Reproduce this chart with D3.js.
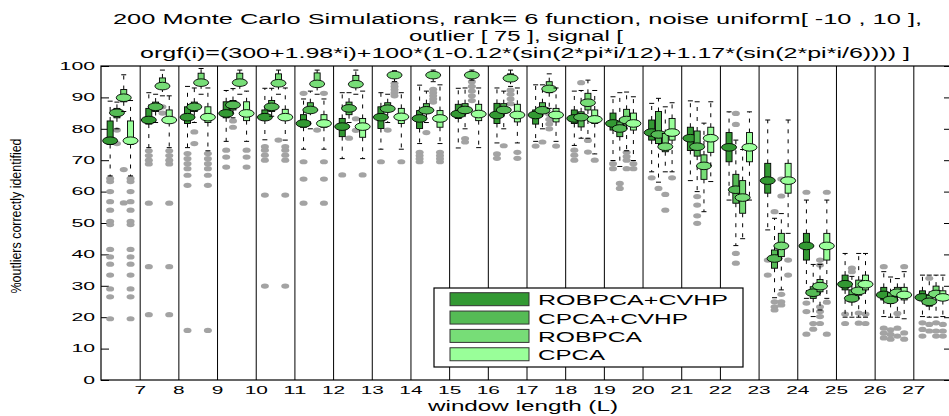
<!DOCTYPE html>
<html>
<head>
<meta charset="utf-8">
<script src="https://cdn.jsdelivr.net/npm/d3@7/dist/d3.min.js"></script>
<style>
  body { margin: 0; background: #fff; }
  svg text { font-family: "Liberation Sans", Arial, Helvetica, sans-serif; fill: #000; }
</style>
</head>
<body>
<svg id="chart" width="949" height="416"></svg>
<script>
// ---- data -------------------------------------------------------------
const groupCount = 22;                       // one group per window length
const tickLabels = d3.range(7, 28);          // labels at the group separators
const yTicks = d3.range(0, 101, 10);
const seriesNames = ["ROBPCA+CVHP", "CPCA+CVHP", "ROBPCA", "CPCA"];
const seriesColors = ["#339933", "#55bb55", "#77dd77", "#99ff99"];
const titleLines = [
  "200 Monte Carlo Simulations, rank= 6 function, noise uniform[ -10 , 10 ],",
  "outlier [ 75 ], signal [",
  "orgf(i)=(300+1.98*i)+100*(1-0.12*(sin(2*pi*i/12)+1.17*(sin(2*pi*i/6)))) ]"
];
const xTitle = "window length (L)";
const yTitle = "%outliers correctly identified";

// per group: [lower whisker, q1, median, q3, upper whisker]
const robpcaCvhpStats = [
  [65,75,76.2,82.5,88.8],[74,81.5,82.8,86.5,91.5],[74,81.7,83.7,87,93.5],[76,83.5,84.9,88.6,92.2],
  [76.5,82.8,83.7,86,92.9],[73.5,80.5,81.7,84.5,89.5],[70.5,77.5,80.7,83.3,91.5],[73.5,80.1,83.7,87,91.5],
  [75.3,80.1,83.3,85.8,93.9],[73.9,83.3,84.7,87.8,92.9],[75.5,81.7,84.4,88.1,93],[76,81.5,84.4,86,94],
  [74.7,81.7,83.3,86,92],[69.9,79.6,81.7,85,90.2],[66.3,76.4,78.8,82.8,88.1],[63.5,73.1,77,80.5,88.9],
  [57.3,69.5,74.1,78.8,85.4],[47.8,59.5,63.5,69,82.8],[26,38.2,42.7,46.7,57.3],[20,28.7,30.5,33.4,40.3],
  [20.2,25.5,27.1,29.5,34.5],[20.2,25.3,26.3,28.4,33.4]
];
const cpcaCvhpStats = [
  [80,83.5,85.1,86.5,88.5],[82,85.5,87,88.5,91],[82,85.5,87,88.5,93],[83.5,86,87.6,89,92.8],
  [84,85.5,87,89,92.9],[80,85.6,86,88.3,92],[82,84.5,86.5,88.5,91.5],[82,85.6,86.4,88.3,91],
  [82,85,85.9,88,92],[80,85,86,88,93],[80,85,86,88,92],[80,85,85.9,88.3,94],
  [77,80.6,83.7,85.4,92.2],[68,77.5,80.1,82.2,91.5],[63,75.3,78.2,85.5,89.7],[60,71.3,74.3,79.3,88.6],
  [42.8,56.3,60.6,65.5,76.4],[26.2,35.6,38.7,41.4,51.5],[20.2,26,27.8,29.7,36.8],[20,24.9,26,28.7,33],
  [20,24.4,25.5,27.8,32.8],[20,23.5,24.9,27,33.4]
];
const robpcaStats = [
  [85.5,88.6,89.9,92.5,97.2],[90.5,93,93.6,96.2,98.7],[91,94,94.7,97.7,99.2],[91,94,94.7,97.7,98.7],
  [91,93.8,94.5,97.5,98.7],[91,93.5,94.3,97.8,98.7],[91,93.5,94.2,97,98.7],[95,96.5,97.1,97.5,98.5],
  [95,96.5,97.1,97.7,98.7],[95.5,96.5,97.1,97.7,98.7],[93.5,95.5,96.1,97.5,98.7],[86.5,91.5,92.7,95,97.5],
  [77,86,88.3,91.3,95.5],[73,81.2,82.8,86.2,91.7],[66.3,72.7,74.3,78.5,87],[53.6,63.9,68.2,71.7,81.8],
  [45,53.1,58.1,63.5,73.4],[28.7,39.3,42.7,46.7,53],[22.3,28.1,29.9,32,36.8],[20,27,28.4,31.8,40.3],
  [20,26.5,27.8,29.5,32.3],[20,26.5,27.4,29.9,33.4]
];
const cpcaStats = [
  [65,75,76.2,82.5,89],[74,82,82.8,86,90.5],[73,82,83.7,87,93],[76,82.6,84.9,88.6,92],
  [76.4,82.8,83.7,86.2,93],[73.5,80.5,81.7,84.5,89.5],[70.5,77.3,80.7,83.3,92],[73.5,81.7,83.8,86.5,91.5],
  [75.3,80.5,83.3,85.8,94],[74,82.6,84.7,87.8,93],[75.5,82.2,84.4,87.8,93],[76,82.2,84.4,86.5,93],
  [72,81.7,83,86,92.2],[69.9,79.6,81.7,85,90.2],[66.3,76.4,78.8,83.3,88.3],[63.2,72.5,77,80.5,88.6],
  [57.3,69.5,74.1,78.8,85.4],[46.7,59.5,63.5,69,82.8],[26,38.2,42.7,46.7,57.3],[20,28.7,30.5,33.4,40.3],
  [19.5,25.5,27.1,29.5,34.5],[20.2,25.3,26.3,28.4,33.4]
];

// per group: values flagged as outliers
const robpcaCvhpOutliers = [
  [64.2,63.2,60,56.8,54.1,50.5,49.5,41.6,39.2,36.9,33.4,29,26.5,19.5],[73,71.5,70,68.8,56.3,36.1,20.8],
  [72.1,70.5,68.9,67.3,65.2,62,15.8],[73.2,71,67.8],[74.3,73.2,71.6,70,58.9,29.9],[91.3,69.5,64,56.3],
  [65.3],[69.5],[72.5,71.5,70.5,69.5],[],[72,70.6],[74.5],[73.2,71.6,70],[68.9,67.3],[64.4],[],[],
  [38.2,33.4],[59.8,24.5,21.8,14.6],[21,18],[36.1,16.5,14.9,13.4],[18.2,16.1,14]
];
const cpcaCvhpOutliers = [
  [79.6,75.3],[],[79,75.3],[82.5,80.5],[],[],[77],[79.6],[78.8],[76.9,75.8],[74.6],[75.8],[94.7],
  [62.6,61],[61],[58.4,55.7,52.3,49.9],[84.9,81.4,40.3,37.2],[53.6,24.9,23.3,22.3],[18,16.2],
  [35.6,34.5],[16,14.5,13],[32.4,17.7,15.6]
];
const robpcaOutliers = [
  [67,56.4],[87,85],[],[],[76.4],[79.6],[83.2,79.5],[94.5,93.5,92.5,91.5,90.5],
  [92.6,91.5,90.5,89.5,88.5],[95,93.5,92,90.5,89],[92.3,91,89.5,88],[84.6,83,81.5,80],[76.3,72.6],
  [72.5,71.2,70,67.3],[59.1,54.1],[],[],[64,58.6,27.3,24.9,23.9],[38.2,36.6,23.3,21.8,20.2,18],
  [21.3,18.1],[21.2,16.5,14],[18.2,15.6,14]
];
const cpcaOutliers = [
  [64.2,63.2,60,56.8,54.1,50.5,49.5,41.6,39.2,36.9,33.4,29,26.5,19.5],[73,71.5,70,68.8,56.3,36.1,20.8],
  [72.1,70.5,68.9,67.3,65.2,62,15.8],[73.2,71,67.8],[74.3,73.2,71.6,70,58.9,29.9],[91.3,69.5,64,56.3],
  [65.3],[69.5],[72.5,71.5,70.5,69.5],[],[72.5,70.6],[74.5],[70],[68.9,67.3],[64.4],[],[],
  [38.2,33.4],[59.8,24.8,14.6],[21,18],[36.1,15,13],[17.7,15.6,14]
];

const seriesStats = [robpcaCvhpStats, cpcaCvhpStats, robpcaStats, cpcaStats];
const seriesOutliers = [robpcaCvhpOutliers, cpcaCvhpOutliers, robpcaOutliers, cpcaOutliers];

// ---- layout -------------------------------------------------------------
const plot = { left: 101, right: 952, top: 66, bottom: 380 };
const svg = d3.select("#chart");

const xg = d3.scaleLinear().domain([0, groupCount]).range([plot.left, plot.right]);
const xs = d3.scalePoint().domain(seriesNames).range([-10.2, 10.2]);
const y = d3.scaleLinear().domain([0, 100]).range([plot.bottom, plot.top]);
const color = d3.scaleOrdinal().domain(seriesNames).range(seriesColors);

// stretch a text element horizontally to a given width
function fitWidth(sel, widthFn) {
  sel.attr("textLength", widthFn).attr("lengthAdjust", "spacingAndGlyphs");
}

// group separators double as the x ticks
const xAxis = svg.append("g")
  .attr("transform", `translate(0,${plot.bottom})`)
  .attr("font-family", null).attr("font-size", 14)
  .call(d3.axisBottom(xg)
    .tickValues(d3.range(1, groupCount))
    .tickFormat(d => tickLabels[d - 1])
    .tickSize(-(plot.bottom - plot.top))
    .tickSizeOuter(0)
    .tickPadding(6.5));
xAxis.select(".domain").remove();
xAxis.selectAll(".tick line").attr("stroke", "#000").attr("stroke-width", 1);
xAxis.selectAll(".tick text").attr("fill", "#000")
  .call(fitWidth, d => String(tickLabels[d - 1]).length * 11.6);

const yAxis = svg.append("g")
  .attr("transform", `translate(${plot.left},0)`)
  .attr("font-family", null).attr("font-size", 14)
  .call(d3.axisLeft(y).tickValues(yTicks).tickSize(-8).tickSizeOuter(0).tickPadding(6));
yAxis.select(".domain").remove();
yAxis.selectAll(".tick line").attr("stroke", "#000");
yAxis.selectAll(".tick text").attr("fill", "#000")
  .call(fitWidth, d => String(d).length * 11.8);

const yAxisRight = svg.append("g")
  .attr("transform", `translate(${plot.right},0)`)
  .call(d3.axisRight(y).tickValues(yTicks).tickSize(-8).tickSizeOuter(0).tickFormat(""));
yAxisRight.select(".domain").remove();
yAxisRight.selectAll(".tick line").attr("stroke", "#000");

// ---- boxes --------------------------------------------------------------
const boxes = [];
const outlierPts = [];
seriesNames.forEach((name, s) => {
  seriesStats[s].forEach((st, g) => {
    const cx = xg(g + 0.5) + xs(name);
    boxes.push({ name, cx, lo: st[0], q1: st[1], med: st[2], q3: st[3], hi: st[4] });
    seriesOutliers[s][g].forEach(v => outlierPts.push({ cx, v }));
  });
});

svg.append("g").selectAll("ellipse").data(outlierPts).join("ellipse")
  .attr("cx", d => d.cx).attr("cy", d => y(d.v))
  .attr("rx", 4).attr("ry", 2.6)
  .attr("fill", "#a3a3a3");

const boxG = svg.append("g").selectAll("g").data(boxes).join("g");
// whiskers
boxG.append("line")
  .attr("x1", d => d.cx).attr("x2", d => d.cx)
  .attr("y1", d => y(d.q3)).attr("y2", d => y(d.hi))
  .attr("stroke", "#000").attr("stroke-width", 1).attr("stroke-dasharray", "4,6");
boxG.append("line")
  .attr("x1", d => d.cx).attr("x2", d => d.cx)
  .attr("y1", d => y(d.q1)).attr("y2", d => y(d.lo))
  .attr("stroke", "#000").attr("stroke-width", 1).attr("stroke-dasharray", "4,6");
boxG.append("line")
  .attr("x1", d => d.cx - 2.5).attr("x2", d => d.cx + 2.5)
  .attr("y1", d => y(d.hi)).attr("y2", d => y(d.hi))
  .attr("stroke", "#000").attr("stroke-width", 1);
boxG.append("line")
  .attr("x1", d => d.cx - 2.5).attr("x2", d => d.cx + 2.5)
  .attr("y1", d => y(d.lo)).attr("y2", d => y(d.lo))
  .attr("stroke", "#000").attr("stroke-width", 1);
// interquartile box
boxG.append("rect")
  .attr("x", d => d.cx - 3).attr("width", 6)
  .attr("y", d => y(d.q3)).attr("height", d => y(d.q1) - y(d.q3))
  .attr("fill", d => color(d.name)).attr("stroke", "#000").attr("stroke-width", 0.9);
// median marker
boxG.append("ellipse")
  .attr("cx", d => d.cx).attr("cy", d => y(d.med))
  .attr("rx", 7.5).attr("ry", 3.8)
  .attr("fill", d => color(d.name)).attr("stroke", "#000").attr("stroke-width", 0.9);

// frame
svg.append("rect")
  .attr("x", plot.left).attr("y", plot.top)
  .attr("width", plot.right - plot.left).attr("height", plot.bottom - plot.top)
  .attr("fill", "none").attr("stroke", "#000").attr("stroke-width", 1.2);

// ---- legend -------------------------------------------------------------
const legendWidths = [190, 150, 104, 67];
const legend = svg.append("g");
legend.append("rect")
  .attr("x", 434).attr("y", 288).attr("width", 309).attr("height", 79)
  .attr("fill", "#fff").attr("stroke", "#000").attr("stroke-width", 1.2);
const legendRow = legend.selectAll("g.row").data(seriesNames).join("g")
  .attr("class", "row")
  .attr("transform", (d, i) => `translate(0,${292.7 + i * 18.35})`);
legendRow.append("rect")
  .attr("x", 450).attr("y", 0).attr("width", 79).attr("height", 13)
  .attr("fill", d => color(d)).attr("stroke", "#333").attr("stroke-width", 1);
legendRow.append("text")
  .attr("x", 538).attr("y", 12.5)
  .attr("font-size", 14)
  .text(d => d)
  .call(fitWidth, (d, i) => legendWidths[i]);

// ---- titles -------------------------------------------------------------
const titleX = [113, 409, 140];
const titleW = [809, 214, 770];
const titleY = [24, 41, 58];
svg.append("g").selectAll("text").data(titleLines).join("text")
  .attr("x", (d, i) => titleX[i]).attr("y", (d, i) => titleY[i])
  .attr("font-size", 14)
  .text(d => d)
  .call(fitWidth, (d, i) => titleW[i]);

svg.append("text")
  .attr("x", 428).attr("y", 411)
  .attr("font-size", 14)
  .text(xTitle)
  .call(fitWidth, 190);

svg.append("text")
  .attr("transform", "translate(21,216) rotate(-90)")
  .attr("text-anchor", "middle")
  .attr("font-size", 15)
  .text(yTitle)
  .call(fitWidth, 155);
</script>
</body>
</html>
